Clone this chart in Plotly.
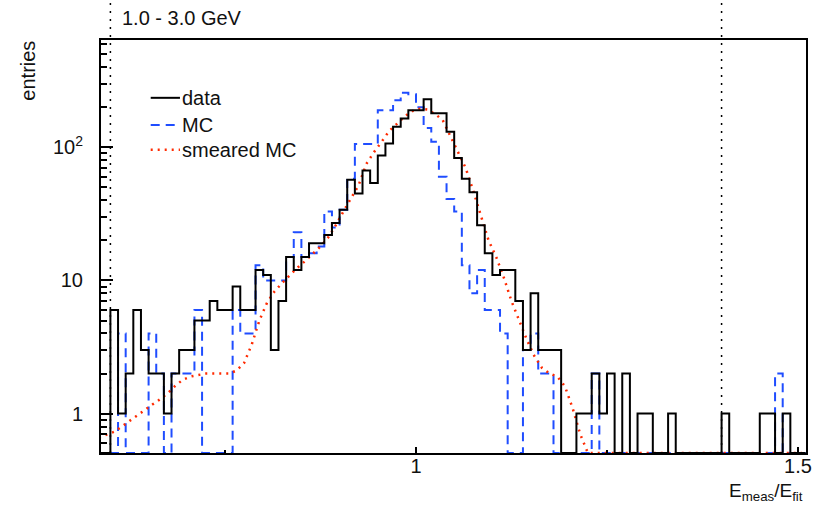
import plotly.graph_objects as go
import math

# bin left edges in units of 0.01 (bins 0.58 .. 1.50), width 0.01
bin_lo = [k / 100 for k in range(58, 151)]
bin_width = 0.01

data_counts = [
    0, 0, 6, 1, 2, 6, 3, 2, 2, 1,          # 0.58-0.67
    2, 3, 3, 5, 5, 7, 6, 6, 9, 6,          # 0.68-0.77
    6, 12, 11, 3, 7, 15, 12, 15, 19, 19,   # 0.78-0.87
    22, 27, 34, 57, 45, 67, 54, 87, 107, 143,  # 0.88-0.97
    165, 190, 190, 230, 180, 180, 131, 83, 58, 46,  # 0.98-1.07
    26, 16, 11, 12, 12, 7, 3, 8, 3, 3,     # 1.08-1.17
    3, 0, 0, 1, 1, 2, 1, 2, 0, 2,          # 1.18-1.27
    0, 1, 1, 0, 0, 1, 0, 0, 0, 0,          # 1.28-1.37
    0, 0, 1, 0, 0, 0, 0, 1, 1, 0,          # 1.38-1.47
    1, 0, 0,                               # 1.48-1.50
]

mc_counts = [
    0, 0, 0, 4, 0, 0, 0, 4, 2, 0,
    2, 2, 2, 6, 0, 0, 0, 0, 6, 4,
    4, 13, 10, 10, 10, 15, 23, 15, 16, 18,
    33, 25, 34, 58, 106, 106, 106, 190, 190, 226,
    257, 250, 200, 140, 110, 60, 41, 33, 13, 8,
    12, 6, 6, 4, 0, 0, 3, 4, 2, 2,
    0, 0, 0, 0, 0, 2, 0, 0, 0, 0,
    0, 0, 0, 0, 0, 0, 0, 0, 0, 0,
    0, 0, 0, 0, 0, 0, 0, 0, 0, 2,
    0, 0, 0,
]

smeared_mc = [
    0.66, 0.69, 0.73, 0.8, 0.88, 0.97, 1.08, 1.17, 1.28, 1.42,
    1.62, 1.8, 1.9, 1.96, 2.0, 2.0, 2.0, 2.0, 2.1, 2.4,
    3.3, 5.0, 6.8, 8.3, 9.6, 11, 12.5, 14, 16, 18,
    21, 26, 33, 41, 52, 75, 92, 110, 133, 150,
    170, 187, 195, 192, 178, 160, 122, 92, 70, 47,
    30, 20, 15, 10.5, 7, 5, 3.6, 2.7, 2.2, 2.0,
    1.9, 1.6, 1.1, 0.7, 0.45, 0, 0, 0, 0, 0,
    0, 0, 0, 0, 0, 0, 0, 0, 0, 0,
    0, 0, 0, 0, 0, 0, 0, 0, 0, 0,
    0, 0, 0,
]

x_range = [0.5877, 1.5105]
y_min, y_max = 0.506, 640.0
x_cut = [0.6, 1.4]

def floor(v):
    return max(v, y_min)

def step(vals):
    xs = bin_lo + [bin_lo[-1] + bin_width]
    ys = [floor(v) for v in vals] + [floor(vals[-1])]
    return xs, ys

fig = go.Figure()

xs, ys = step(mc_counts)
fig.add_trace(go.Scatter(x=xs, y=ys, mode="lines", line_shape="hv", name="MC",
                         line=dict(color="#1f4dff", width=2, dash="9px,6px")))

centers = [b + bin_width / 2 for b in bin_lo]
fig.add_trace(go.Scatter(x=centers, y=[floor(v) for v in smeared_mc], mode="lines",
                         name="smeared MC",
                         line=dict(color="#ff2a00", width=2.5, dash="2px,5px")))

xs, ys = step(data_counts)
fig.add_trace(go.Scatter(x=xs, y=ys, mode="lines", line_shape="hv", name="data",
                         line=dict(color="black", width=2)))

font = "Liberation Sans, Arial, Helvetica, sans-serif"
fs = 20

# cut lines
for xc in x_cut:
    fig.add_shape(type="line", xref="x", yref="paper", x0=xc, x1=xc, y0=0, y1=1.097,
                  line=dict(color="black", width=1.5, dash="2px,6px"))

# legend (manual, ROOT style)
leg = [("data", "black", "solid", 2, 0.860),
       ("MC", "#1f4dff", "9px,6px", 2, 0.794),
       ("smeared MC", "#ff2a00", "2px,5px", 2.5, 0.734)]
for name, col, dash, w, yy in leg:
    fig.add_shape(type="line", xref="paper", yref="paper", x0=0.0705, x1=0.112,
                  y0=yy, y1=yy, line=dict(color=col, width=w, dash=dash))
    fig.add_annotation(xref="paper", yref="paper", x=0.1125, y=yy, text=name,
                       showarrow=False, xanchor="left", yanchor="middle",
                       font=dict(family=font, size=fs, color="#111"))

fig.add_annotation(xref="paper", yref="paper", x=0.027, y=1.053, text="1.0 - 3.0 GeV",
                   showarrow=False, xanchor="left", yanchor="middle",
                   font=dict(family=font, size=fs, color="#111"))
fig.add_annotation(xref="paper", yref="paper", x=-0.104, y=0.925, text="entries",
                   textangle=-90, showarrow=False, xanchor="center", yanchor="middle",
                   font=dict(family=font, size=fs, color="#111"))
fig.add_annotation(xref="paper", yref="paper", x=0.999, y=-0.094,
                   text="E<sub>meas</sub>/E<sub>fit</sub>",
                   showarrow=False, xanchor="right", yanchor="middle",
                   font=dict(family=font, size=fs - 1, color="#111"))

minor_y = [0.6, 0.7, 0.8, 0.9] + [m * 10 ** e for e in (0, 1) for m in range(2, 10)] + [200, 300, 400, 500, 600]

fig.update_layout(
    width=822, height=506,
    margin=dict(l=101, r=16, t=40, b=53),
    paper_bgcolor="white", plot_bgcolor="white",
    showlegend=False,
    font=dict(family=font, size=fs, color="#111"),
    xaxis=dict(range=x_range, showgrid=False, zeroline=False, automargin=False,
               showline=True, linecolor="black", linewidth=2, mirror=True,
               ticks="inside", ticklen=6, tickwidth=1.5, tickcolor="black",
               tickmode="array", tickvals=[1, 1.5], ticktext=["1", "1.5"],
               ticklabelstandoff=-6, tickfont=dict(size=fs),
               minor=dict(ticks="inside", ticklen=3, tickmode="array",
                          tickvals=[0.75, 1.25], tickcolor="black")),
    yaxis=dict(type="log", range=[math.log10(y_min), math.log10(y_max)],
               showgrid=False, zeroline=False, automargin=False,
               showline=True, linecolor="black", linewidth=2, mirror=True,
               ticks="inside", ticklen=12, tickwidth=1.5, tickcolor="black",
               tickmode="array", tickvals=[1, 10, 100],
               ticktext=["1", "10", "10<sup>2</sup>"],
               ticklabelstandoff=12, tickfont=dict(size=fs),
               minor=dict(ticks="inside", ticklen=6, tickmode="array",
                          tickvals=minor_y, tickcolor="black")),
)

fig.write_html("out.html", config={"displayModeBar": False},
               post_script="document.body.style.margin='0';")
